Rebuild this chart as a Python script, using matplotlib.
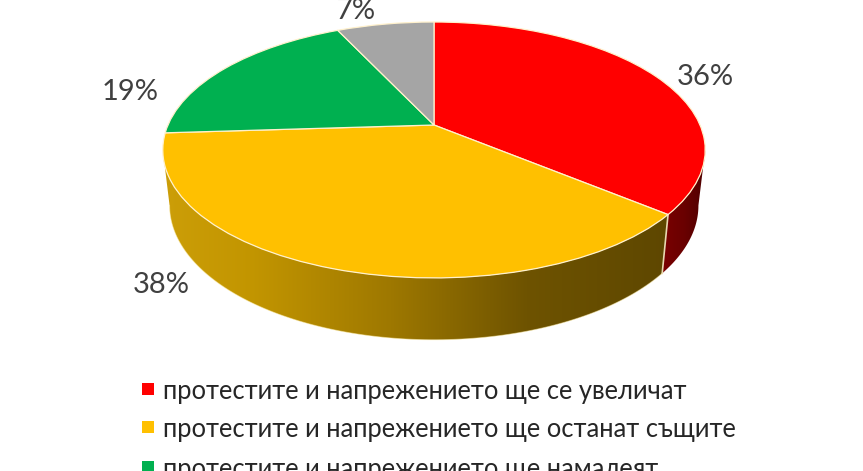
import numpy as np
import matplotlib
matplotlib.use("Agg")
import matplotlib.pyplot as plt
from matplotlib.colors import LinearSegmentedColormap
from matplotlib.patches import Polygon
from matplotlib.transforms import Transform

# data
labels = ["протестите и напрежението ще се увеличат",
          "протестите и напрежението ще останат същите",
          "протестите и напрежението ще намалеят",
          "друго"]
values = [36, 38, 19, 7]
pct_labels = ["36%", "38%", "19%", "7%"]
colors = ["#FF0000", "#FFC000", "#00B050", "#A5A5A5"]

plt.rcParams["font.family"] = ["Lato", "Open Sans", "DejaVu Sans"]

CX, CY, R, A, K = 434.0, 125.0, 266.0, 98.7, 0.195


def project(xy):
    xy = np.asarray(xy, float)
    u, v = xy[..., 0], xy[..., 1]
    w = 1 + K * v
    return np.stack([CX + R * u / w, (CY - A * v) / w], axis=-1)


def project_bottom(xy):
    p = project(xy)
    return np.stack([CX + 0.975 * (p[..., 0] - CX), 1.05 * p[..., 1] + 48.0], axis=-1)


class Perspective(Transform):
    input_dims = 2
    output_dims = 2
    has_inverted = False
    is_separable = False

    def transform_non_affine(self, values):
        return project(values)


fig = plt.figure(figsize=(8.63, 4.71), dpi=100, facecolor="white")
ax = fig.add_axes([0, 0, 1, 1])

fractions = np.cumsum([0] + values) / sum(values)
yellow_cmap = LinearSegmentedColormap.from_list(
    "y", [(0, "#CC9E08"), (0.18, "#C29500"), (0.45, "#9E7800"), (0.72, "#6E5300"), (1, "#5E4700")])
red_cmap = LinearSegmentedColormap.from_list("r", ["#7A0000", "#6A0000", "#4E0000"])

# where the rim's outline turns: the wall is only seen between these two angles
sil = np.arccos(-K) / (2 * np.pi)


def wall(start, end, cmap, zorder):
    th = 2 * np.pi * np.linspace(start, end, 120)
    circ = np.stack([np.sin(th), np.cos(th)], axis=-1)
    top, bot = project(circ), project_bottom(circ)
    verts = np.vstack([top, bot[::-1]])
    x0, x1 = verts[:, 0].min(), verts[:, 0].max()
    y0, y1 = verts[:, 1].min(), verts[:, 1].max()
    im = ax.imshow(np.linspace(0, 1, 256)[None, :], cmap=cmap, aspect="auto",
                   extent=(x0, x1, y1, y0), zorder=zorder, interpolation="bilinear")
    poly = Polygon(verts, closed=True, transform=ax.transData, fc="none", ec="none")
    ax.add_patch(poly)
    im.set_clip_path(poly)
    return top, bot


wall(sil, fractions[1], red_cmap, 1)
top_y, bot_y = wall(fractions[1], 1 - sil, yellow_cmap, 2)
ax.plot([top_y[0, 0], bot_y[0, 0]], [top_y[0, 1], bot_y[0, 1]], color="#E8D8B0", lw=1.2, zorder=3)
ax.plot(bot_y[:, 0], bot_y[:, 1], color="#FFF0B0", lw=0.7, alpha=0.5, zorder=3)

# top face
wedges, _ = ax.pie(values, colors=colors, startangle=90, counterclock=False,
                   wedgeprops=dict(edgecolor="#FFF1CC", linewidth=0.9))
persp = Perspective() + ax.transData
for w in wedges:
    w.set_transform(persp)
    w.set_zorder(4)
    w.set_clip_on(False)

ax.set_xlim(0, 863)
ax.set_ylim(471, 0)
ax.set_aspect("auto")
ax.axis("off")

# percentage labels
pct_x = [705, 161, 130, 355]
pct_y = [77, 285, 92, 11]
for s, x, y in zip(pct_labels, pct_x, pct_y):
    ax.text(x, y, s, ha="center", va="center", fontsize=21, color="#404040", zorder=6)

# legend (the fourth entry lies outside the picture)
leg_y = [392, 430, 470]
for s, c, y in zip(labels[:3], colors[:3], leg_y):
    ax.scatter([148], [y - 3], marker="s", s=75, color=c, linewidths=0, zorder=6)
    ax.text(163, y, s, ha="left", va="center", fontsize=18.4, color="#262626", zorder=6)

fig.savefig("out.png", dpi=100)
